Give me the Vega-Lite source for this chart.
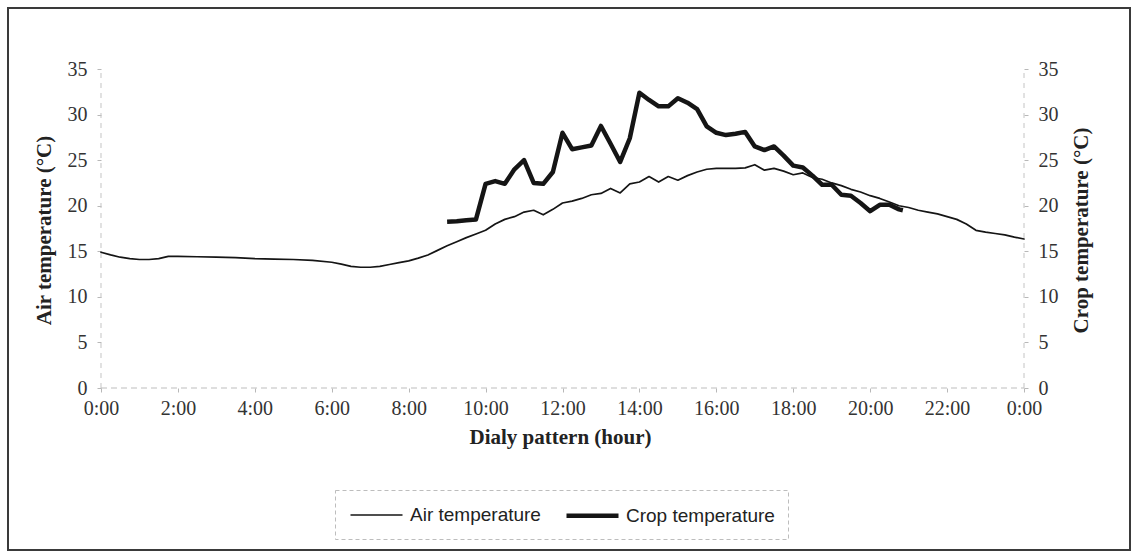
{
  "$schema": "https://vega.github.io/schema/vega-lite/v6.json",
  "width": 1122,
  "height": 542,
  "autosize": {"type": "none"},
  "padding": {"left": 8, "top": 8, "right": 3, "bottom": 5},
  "background": "white",
  "config": {
    "view": {"stroke": "#3a3a3a", "strokeWidth": 2},
    "font": "Liberation Serif",
    "axis": {
      "grid": false,
      "domain": false,
      "labelFont": "Liberation Serif",
      "labelFontSize": 20,
      "labelColor": "#333333",
      "tickColor": "#b8b8b8",
      "tickSize": 4,
      "labelPadding": 8,
      "titleFont": "Liberation Serif",
      "titleFontSize": 21,
      "titleFontWeight": "bold",
      "titleColor": "#222222"
    },
    "legend": {
      "labelFont": "Liberation Sans",
      "labelFontSize": 19,
      "labelColor": "#222222",
      "strokeColor": "#bdbdbd",
      "strokeDash": [4, 3]
    }
  },
  "datasets": {
    "temps": [
      {"t": 0, "series": "Air temperature", "v": 14.9},
      {"t": 0.25, "series": "Air temperature", "v": 14.6},
      {"t": 0.5, "series": "Air temperature", "v": 14.35},
      {"t": 0.75, "series": "Air temperature", "v": 14.2},
      {"t": 1.0, "series": "Air temperature", "v": 14.1},
      {"t": 1.25, "series": "Air temperature", "v": 14.1},
      {"t": 1.5, "series": "Air temperature", "v": 14.2},
      {"t": 1.75, "series": "Air temperature", "v": 14.45},
      {"t": 2.0, "series": "Air temperature", "v": 14.45},
      {"t": 2.5, "series": "Air temperature", "v": 14.4},
      {"t": 3.0, "series": "Air temperature", "v": 14.35},
      {"t": 3.5, "series": "Air temperature", "v": 14.3},
      {"t": 4.0, "series": "Air temperature", "v": 14.2},
      {"t": 4.5, "series": "Air temperature", "v": 14.15},
      {"t": 5.0, "series": "Air temperature", "v": 14.1},
      {"t": 5.5, "series": "Air temperature", "v": 14.0},
      {"t": 6.0, "series": "Air temperature", "v": 13.8},
      {"t": 6.25, "series": "Air temperature", "v": 13.6},
      {"t": 6.5, "series": "Air temperature", "v": 13.35},
      {"t": 6.75, "series": "Air temperature", "v": 13.25},
      {"t": 7.0, "series": "Air temperature", "v": 13.25},
      {"t": 7.25, "series": "Air temperature", "v": 13.35},
      {"t": 7.5, "series": "Air temperature", "v": 13.55},
      {"t": 7.75, "series": "Air temperature", "v": 13.75},
      {"t": 8.0, "series": "Air temperature", "v": 13.95},
      {"t": 8.25, "series": "Air temperature", "v": 14.25},
      {"t": 8.5, "series": "Air temperature", "v": 14.6},
      {"t": 8.75, "series": "Air temperature", "v": 15.1},
      {"t": 9.0, "series": "Air temperature", "v": 15.6},
      {"t": 9.25, "series": "Air temperature", "v": 16.05},
      {"t": 9.5, "series": "Air temperature", "v": 16.5},
      {"t": 9.75, "series": "Air temperature", "v": 16.9},
      {"t": 10.0, "series": "Air temperature", "v": 17.3},
      {"t": 10.25, "series": "Air temperature", "v": 18.0},
      {"t": 10.5, "series": "Air temperature", "v": 18.5},
      {"t": 10.75, "series": "Air temperature", "v": 18.8},
      {"t": 11.0, "series": "Air temperature", "v": 19.3},
      {"t": 11.25, "series": "Air temperature", "v": 19.5},
      {"t": 11.5, "series": "Air temperature", "v": 19.0},
      {"t": 11.75, "series": "Air temperature", "v": 19.6},
      {"t": 12.0, "series": "Air temperature", "v": 20.3},
      {"t": 12.25, "series": "Air temperature", "v": 20.5},
      {"t": 12.5, "series": "Air temperature", "v": 20.8},
      {"t": 12.75, "series": "Air temperature", "v": 21.2},
      {"t": 13.0, "series": "Air temperature", "v": 21.35},
      {"t": 13.25, "series": "Air temperature", "v": 21.9},
      {"t": 13.5, "series": "Air temperature", "v": 21.4},
      {"t": 13.75, "series": "Air temperature", "v": 22.4},
      {"t": 14.0, "series": "Air temperature", "v": 22.6},
      {"t": 14.25, "series": "Air temperature", "v": 23.2},
      {"t": 14.5, "series": "Air temperature", "v": 22.6},
      {"t": 14.75, "series": "Air temperature", "v": 23.2},
      {"t": 15.0, "series": "Air temperature", "v": 22.8},
      {"t": 15.25, "series": "Air temperature", "v": 23.3},
      {"t": 15.5, "series": "Air temperature", "v": 23.7},
      {"t": 15.75, "series": "Air temperature", "v": 24.0},
      {"t": 16.0, "series": "Air temperature", "v": 24.1},
      {"t": 16.25, "series": "Air temperature", "v": 24.1},
      {"t": 16.5, "series": "Air temperature", "v": 24.1},
      {"t": 16.75, "series": "Air temperature", "v": 24.15},
      {"t": 17.0, "series": "Air temperature", "v": 24.5},
      {"t": 17.25, "series": "Air temperature", "v": 23.9},
      {"t": 17.5, "series": "Air temperature", "v": 24.1},
      {"t": 17.75, "series": "Air temperature", "v": 23.8},
      {"t": 18.0, "series": "Air temperature", "v": 23.4},
      {"t": 18.25, "series": "Air temperature", "v": 23.6},
      {"t": 18.5, "series": "Air temperature", "v": 23.1},
      {"t": 18.75, "series": "Air temperature", "v": 22.9},
      {"t": 19.0, "series": "Air temperature", "v": 22.5},
      {"t": 19.25, "series": "Air temperature", "v": 22.2},
      {"t": 19.5, "series": "Air temperature", "v": 21.8},
      {"t": 19.75, "series": "Air temperature", "v": 21.5},
      {"t": 20.0, "series": "Air temperature", "v": 21.1},
      {"t": 20.25, "series": "Air temperature", "v": 20.8},
      {"t": 20.5, "series": "Air temperature", "v": 20.4},
      {"t": 20.75, "series": "Air temperature", "v": 20.0},
      {"t": 21.0, "series": "Air temperature", "v": 19.8},
      {"t": 21.25, "series": "Air temperature", "v": 19.5},
      {"t": 21.5, "series": "Air temperature", "v": 19.3},
      {"t": 21.75, "series": "Air temperature", "v": 19.1},
      {"t": 22.0, "series": "Air temperature", "v": 18.8},
      {"t": 22.25, "series": "Air temperature", "v": 18.5},
      {"t": 22.5, "series": "Air temperature", "v": 18.0},
      {"t": 22.75, "series": "Air temperature", "v": 17.3},
      {"t": 23.0, "series": "Air temperature", "v": 17.1},
      {"t": 23.25, "series": "Air temperature", "v": 16.95},
      {"t": 23.5, "series": "Air temperature", "v": 16.8},
      {"t": 23.75, "series": "Air temperature", "v": 16.55},
      {"t": 24.0, "series": "Air temperature", "v": 16.35},
      {"t": 9.0, "series": "Crop temperature", "v": 18.25},
      {"t": 9.25, "series": "Crop temperature", "v": 18.3},
      {"t": 9.5, "series": "Crop temperature", "v": 18.4},
      {"t": 9.75, "series": "Crop temperature", "v": 18.5},
      {"t": 10.0, "series": "Crop temperature", "v": 22.4},
      {"t": 10.25, "series": "Crop temperature", "v": 22.7},
      {"t": 10.5, "series": "Crop temperature", "v": 22.4},
      {"t": 10.75, "series": "Crop temperature", "v": 24.0},
      {"t": 11.0, "series": "Crop temperature", "v": 25.0},
      {"t": 11.25, "series": "Crop temperature", "v": 22.5},
      {"t": 11.5, "series": "Crop temperature", "v": 22.4},
      {"t": 11.75, "series": "Crop temperature", "v": 23.7},
      {"t": 12.0, "series": "Crop temperature", "v": 28.0},
      {"t": 12.25, "series": "Crop temperature", "v": 26.2},
      {"t": 12.5, "series": "Crop temperature", "v": 26.4},
      {"t": 12.75, "series": "Crop temperature", "v": 26.6},
      {"t": 13.0, "series": "Crop temperature", "v": 28.75},
      {"t": 13.25, "series": "Crop temperature", "v": 26.8},
      {"t": 13.5, "series": "Crop temperature", "v": 24.8},
      {"t": 13.75, "series": "Crop temperature", "v": 27.4},
      {"t": 14.0, "series": "Crop temperature", "v": 32.4},
      {"t": 14.25, "series": "Crop temperature", "v": 31.6},
      {"t": 14.5, "series": "Crop temperature", "v": 30.9},
      {"t": 14.75, "series": "Crop temperature", "v": 30.9},
      {"t": 15.0, "series": "Crop temperature", "v": 31.8},
      {"t": 15.25, "series": "Crop temperature", "v": 31.3},
      {"t": 15.5, "series": "Crop temperature", "v": 30.6},
      {"t": 15.75, "series": "Crop temperature", "v": 28.7},
      {"t": 16.0, "series": "Crop temperature", "v": 28.0},
      {"t": 16.25, "series": "Crop temperature", "v": 27.75},
      {"t": 16.5, "series": "Crop temperature", "v": 27.9},
      {"t": 16.75, "series": "Crop temperature", "v": 28.1},
      {"t": 17.0, "series": "Crop temperature", "v": 26.5},
      {"t": 17.25, "series": "Crop temperature", "v": 26.1},
      {"t": 17.5, "series": "Crop temperature", "v": 26.5},
      {"t": 17.75, "series": "Crop temperature", "v": 25.5},
      {"t": 18.0, "series": "Crop temperature", "v": 24.4},
      {"t": 18.25, "series": "Crop temperature", "v": 24.2},
      {"t": 18.5, "series": "Crop temperature", "v": 23.3},
      {"t": 18.75, "series": "Crop temperature", "v": 22.3},
      {"t": 19.0, "series": "Crop temperature", "v": 22.3},
      {"t": 19.25, "series": "Crop temperature", "v": 21.2},
      {"t": 19.5, "series": "Crop temperature", "v": 21.1},
      {"t": 19.75, "series": "Crop temperature", "v": 20.3},
      {"t": 20.0, "series": "Crop temperature", "v": 19.4},
      {"t": 20.25, "series": "Crop temperature", "v": 20.1},
      {"t": 20.5, "series": "Crop temperature", "v": 20.1},
      {"t": 20.75, "series": "Crop temperature", "v": 19.6},
      {"t": 20.85, "series": "Crop temperature", "v": 19.5}
    ]
  },
  "layer": [
    {
      "data": {"values": [{}]},
      "mark": {"type": "rule", "color": "#bdbdbd", "strokeDash": [6, 4], "strokeWidth": 1},
      "encoding": {
        "x": {"datum": 0, "type": "quantitative", "scale": {"domain": [-2.418, 26.756], "nice": false, "zero": false}},
        "x2": {"datum": 24},
        "y": {"datum": 0, "type": "quantitative", "scale": {"domain": [-17.774, 41.693], "nice": false, "zero": false}, "axis": null}
      }
    },
    {
      "data": {"values": [{}]},
      "mark": {"type": "rule", "color": "#c4c4c4", "strokeDash": [5, 5], "strokeWidth": 1},
      "encoding": {
        "x": {"datum": 0, "type": "quantitative", "scale": {"domain": [-2.418, 26.756], "nice": false, "zero": false}},
        "y": {"datum": 0, "type": "quantitative", "scale": {"domain": [-17.774, 41.693], "nice": false, "zero": false}, "axis": null},
        "y2": {"datum": 35}
      }
    },
    {
      "data": {"values": [{}]},
      "mark": {"type": "rule", "color": "#c4c4c4", "strokeDash": [5, 5], "strokeWidth": 1},
      "encoding": {
        "x": {"datum": 24, "type": "quantitative", "scale": {"domain": [-2.418, 26.756], "nice": false, "zero": false}},
        "y": {"datum": 0, "type": "quantitative", "scale": {"domain": [-17.774, 41.693], "nice": false, "zero": false}, "axis": null},
        "y2": {"datum": 35}
      }
    },
    {
      "data": {"name": "temps"},
      "transform": [{"filter": "datum.series === 'Air temperature'"}],
      "mark": {"type": "line", "strokeJoin": "round", "strokeCap": "round"},
      "encoding": {
        "x": {
          "field": "t", "type": "quantitative",
          "scale": {"domain": [-2.418, 26.756], "nice": false, "zero": false},
          "axis": {
            "orient": "bottom", "offset": -162,
            "values": [0, 2, 4, 6, 8, 10, 12, 14, 16, 18, 20, 22, 24],
            "labelExpr": "(datum.value % 24) + ':00'",
            "labelFont": "Liberation Serif",
            "labelFontSize": 20,
            "labelPadding": 6,
            "title": "Dialy pattern (hour)",
            "titleX": 552,
            "titlePadding": 8
          }
        },
        "y": {
          "field": "v", "type": "quantitative",
          "scale": {"domain": [-17.774, 41.693], "nice": false, "zero": false},
          "axis": {
            "orient": "left", "offset": -93,
            "values": [0, 5, 10, 15, 20, 25, 30, 35],
            "labelFont": "Liberation Serif",
            "labelFontSize": 20,
            "labelPadding": 10,
            "title": "Air temperature (°C)",
            "titlePadding": 13,
            "titleY": 222
          }
        },
        "color": {
          "field": "series", "type": "nominal",
          "scale": {"domain": ["Air temperature", "Crop temperature"], "range": ["#151515", "#151515"]},
          "legend": {
            "orient": "none", "legendX": 327, "legendY": 482,
            "direction": "horizontal", "columns": 2, "title": null,
            "symbolType": "M-1,0L4.2,0", "symbolSize": 400,
            "labelOffset": 37, "columnPadding": 16, "padding": 13
          }
        },
        "strokeWidth": {
          "field": "series", "type": "nominal",
          "scale": {"domain": ["Air temperature", "Crop temperature"], "range": [1.7, 4.5]},
          "legend": {
            "orient": "none", "legendX": 327, "legendY": 482,
            "direction": "horizontal", "columns": 2, "title": null,
            "symbolType": "M-1,0L4.2,0", "symbolSize": 400,
            "labelOffset": 37, "columnPadding": 16, "padding": 13
          }
        }
      }
    },
    {
      "data": {"name": "temps"},
      "transform": [{"filter": "datum.series === 'Crop temperature'"}],
      "mark": {"type": "line", "strokeJoin": "round", "strokeCap": "butt"},
      "encoding": {
        "x": {"field": "t", "type": "quantitative", "scale": {"domain": [-2.418, 26.756], "nice": false, "zero": false}},
        "y": {
          "field": "v", "type": "quantitative",
          "scale": {"domain": [-17.774, 41.693], "nice": false, "zero": false},
          "axis": {
            "orient": "right", "offset": -106,
            "values": [0, 5, 10, 15, 20, 25, 30, 35],
            "labelFont": "Liberation Serif",
            "labelFontSize": 20,
            "labelPadding": 10,
            "title": "Crop temperature (°C)",
            "titleAngle": 270,
            "titleBaseline": "top",
            "titlePadding": 12,
            "titleY": 222
          }
        },
        "color": {"field": "series", "type": "nominal"},
        "strokeWidth": {"field": "series", "type": "nominal"}
      }
    }
  ],
  "resolve": {"scale": {"y": "independent"}, "axis": {"y": "independent"}}
}
